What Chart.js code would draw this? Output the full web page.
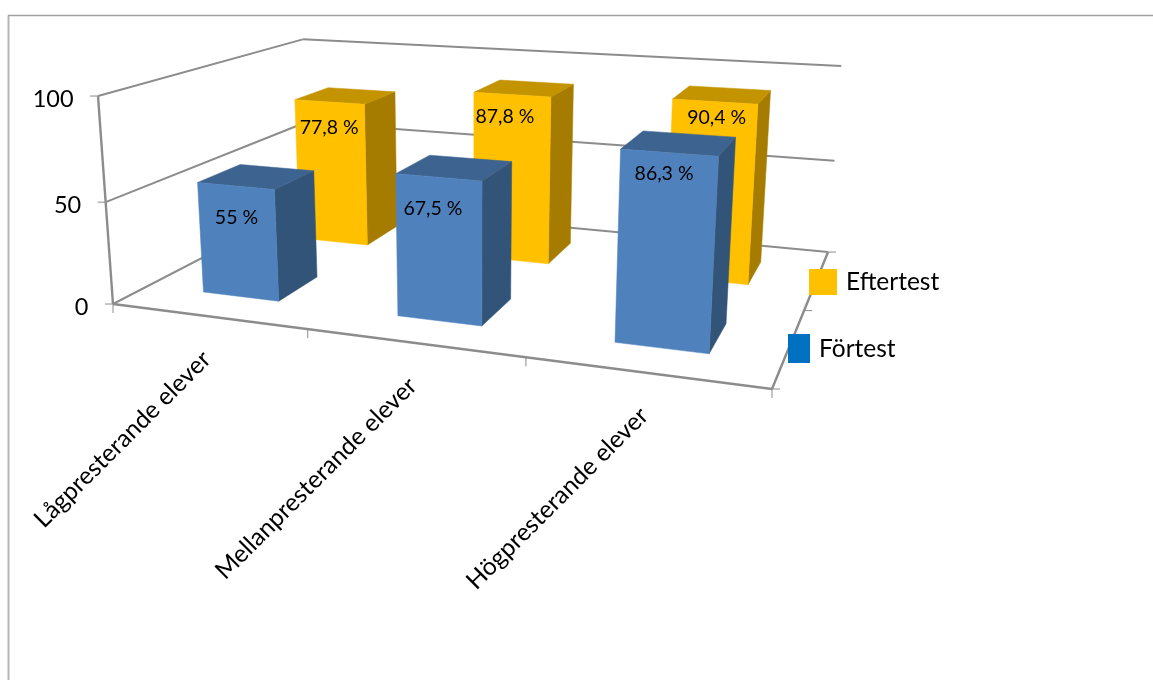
<!DOCTYPE html>
<html lang="sv">
<head>
<meta charset="utf-8">
<title>Förtest och eftertest</title>
<style>
html,body{margin:0;padding:0;background:#fff;overflow:hidden}
canvas{display:block}
</style>
<script src="https://cdn.jsdelivr.net/npm/chart.js@4/dist/chart.umd.js"></script>
</head>
<body>
<canvas id="c" width="1153" height="680"></canvas>
<script>
const categories = ['Lågpresterande elever', 'Mellanpresterande elever', 'Högpresterande elever'];
const forTest = [55, 67.5, 86.3];
const efterTest = [77.8, 87.8, 90.4];
const seriesNames = ['Förtest', 'Eftertest'];
const yTicks = { min: 0, max: 100, step: 50 };

// Camera matrix of the 3D frame: unit cube (u along categories, v depth, w height) -> screen
const CAM = [
  [534.7, 282.7, -18.9, 113],
  [22.4, -43.2, -211.8, 304],
  [-0.161, 0.2846, -0.04, 1]
];
const project = (u, v, w) => {
  const d = CAM[2][0]*u + CAM[2][1]*v + CAM[2][2]*w + CAM[2][3];
  return [(CAM[0][0]*u + CAM[0][1]*v + CAM[0][2]*w + CAM[0][3]) / d,
          (CAM[1][0]*u + CAM[1][1]*v + CAM[1][2]*w + CAM[1][3]) / d];
};

const FONT = 'Lato, Carlito, Calibri, sans-serif';
const AXIS_COLOR = '#8c8c8c';
const STYLES = [
  { front: '#4f81bd', top: '#3d6390', side: '#325479', swatch: '#0070c0',
    swatchBox: [788, 334, 22, 29], textAt: [819, 349.5], depth: 0.25,
    labelShift: [[0.5, 32], [-6, 31], [-5.5, 21.5]] },
  { front: '#ffc000', top: '#c49300', side: '#a67c00', swatch: '#ffc000',
    swatchBox: [809, 269, 28, 26], textAt: [846, 282.5], depth: 0.75,
    labelShift: [[-0.5, 25.5], [-7.5, 22], [1.5, 16]] }
];
const HALF_DEPTH = 0.1;

function poly(ctx, pts, fill) {
  ctx.beginPath();
  pts.forEach((p, i) => i ? ctx.lineTo(p[0], p[1]) : ctx.moveTo(p[0], p[1]));
  ctx.closePath();
  ctx.fillStyle = fill;
  ctx.fill();
  ctx.strokeStyle = fill;
  ctx.lineWidth = 0.5;
  ctx.stroke();
}
function seg(ctx, a, b, width, color) {
  ctx.beginPath();
  ctx.moveTo(a[0], a[1]);
  ctx.lineTo(b[0], b[1]);
  ctx.lineWidth = width;
  ctx.strokeStyle = color || AXIS_COLOR;
  ctx.stroke();
}

const frame3d = {
  id: 'frame3d',
  beforeDraw(chart) {
    const ctx = chart.ctx, ys = chart.scales.y, xs = chart.scales.x;
    ctx.save();
    // outer chart border
    seg(ctx, [8.5, 680], [8.5, 15.5], 2, '#b5b5b5');
    seg(ctx, [8, 15.5], [1153, 15.5], 1.5, '#a0a0a0');
    // walls and gridlines at the scale's ticks
    ys.ticks.forEach(t => {
      const w = (t.value - ys.min) / (ys.max - ys.min);
      seg(ctx, project(0, 0, w), project(0, 1, w), 2);
      seg(ctx, project(0, 1, w), project(1, 1, w), 2);
      const p = project(0, 0, w);
      seg(ctx, [p[0] - 8, p[1]], p, 1);
      ctx.fillStyle = '#000';
      ctx.font = '23.5px ' + FONT;
      ctx.textAlign = 'right';
      ctx.textBaseline = 'middle';
      ctx.fillText(String(t.value), p[0] - 24.5, p[1] + 3);
    });
    seg(ctx, project(0, 0, 0), project(0, 0, 1), 2.4);
    seg(ctx, project(0, 0, 0), project(1, 0, 0), 2.4);
    seg(ctx, project(1, 0, 0), project(1, 1, 0), 2.4);
    // depth ticks
    [0, 0.5, 1].forEach(v => {
      const p = project(1, v, 0);
      seg(ctx, p, [p[0] + 8, p[1]], 1);
    });
    // category ticks and labels
    const area = chart.chartArea;
    const n = categories.length;
    for (let i = 0; i <= n; i++) {
      const p = project(i / n, 0, 0);
      seg(ctx, p, [p[0], p[1] + 9], 1);
    }
    xs.ticks.forEach((t, i) => {
      const u = (xs.getPixelForTick(i) - area.left) / area.width;
      const p = project(u, 0, 0);
      ctx.save();
      ctx.translate(p[0] - 1, p[1] + 39);
      ctx.rotate(-Math.PI / 4);
      ctx.fillStyle = '#000';
      ctx.font = '24.5px ' + FONT;
      ctx.textAlign = 'right';
      ctx.textBaseline = 'middle';
      ctx.fillText(categories[i], 0, 0);
      ctx.restore();
    });
    ctx.restore();
  },
  beforeDatasetsDraw(chart) {
    const ctx = chart.ctx, area = chart.chartArea;
    ctx.save();
    const labels = [];
    // back row first, so the front row hides it
    for (let ds = chart.data.datasets.length - 1; ds >= 0; ds--) {
      const st = STYLES[ds];
      const v0 = st.depth - HALF_DEPTH, v1 = st.depth + HALF_DEPTH;
      chart.getDatasetMeta(ds).data.forEach((el, i) => {
        const u0 = (el.x - el.width / 2 - area.left) / area.width;
        const u1 = (el.x + el.width / 2 - area.left) / area.width;
        const w = (area.bottom - el.y) / area.height;
        const ftl = project(u0, v0, w), ftr = project(u1, v0, w);
        const fbl = project(u0, v0, 0), fbr = project(u1, v0, 0);
        const btl = project(u0, v1, w), btr = project(u1, v1, w), bbr = project(u1, v1, 0);
        poly(ctx, [ftr, btr, bbr, fbr], st.side);
        poly(ctx, [ftl, btl, btr, ftr], st.top);
        poly(ctx, [ftl, ftr, fbr, fbl], st.front);
        const s = st.labelShift[i];
        const val = chart.data.datasets[ds].data[i];
        labels.push([String(val).replace('.', ',') + ' %',
          (ftl[0] + ftr[0]) / 2 + s[0], (ftl[1] + ftr[1]) / 2 + s[1]]);
      });
    }
    ctx.fillStyle = '#000';
    ctx.font = '19.5px ' + FONT;
    ctx.textAlign = 'center';
    ctx.textBaseline = 'middle';
    labels.forEach(l => ctx.fillText(l[0], l[1], l[2]));
    // legend
    chart.data.datasets.forEach((d, ds) => {
      const st = STYLES[ds];
      ctx.fillStyle = st.swatch;
      ctx.fillRect(...st.swatchBox);
      ctx.fillStyle = '#000';
      ctx.font = '24.5px ' + FONT;
      ctx.textAlign = 'left';
      ctx.textBaseline = 'middle';
      ctx.fillText(d.label, st.textAt[0], st.textAt[1]);
    });
    ctx.restore();
  },
  beforeDatasetDraw() { return false; }
};

new Chart(document.getElementById('c'), {
  type: 'bar',
  data: {
    labels: categories,
    datasets: [
      { label: seriesNames[0], data: forTest, backgroundColor: '#4f81bd', grouped: false },
      { label: seriesNames[1], data: efterTest, backgroundColor: '#ffc000', grouped: false }
    ]
  },
  options: {
    responsive: false,
    animation: false,
    devicePixelRatio: 1,
    barPercentage: 0.4,
    categoryPercentage: 1,
    layout: { padding: 0 },
    plugins: { legend: { display: false }, title: { display: false }, tooltip: { enabled: false } },
    scales: {
      x: { display: false, grid: { display: false } },
      y: { display: false, min: yTicks.min, max: yTicks.max, ticks: { stepSize: yTicks.step }, grid: { display: false } }
    }
  },
  plugins: [frame3d]
});
</script>
</body>
</html>
